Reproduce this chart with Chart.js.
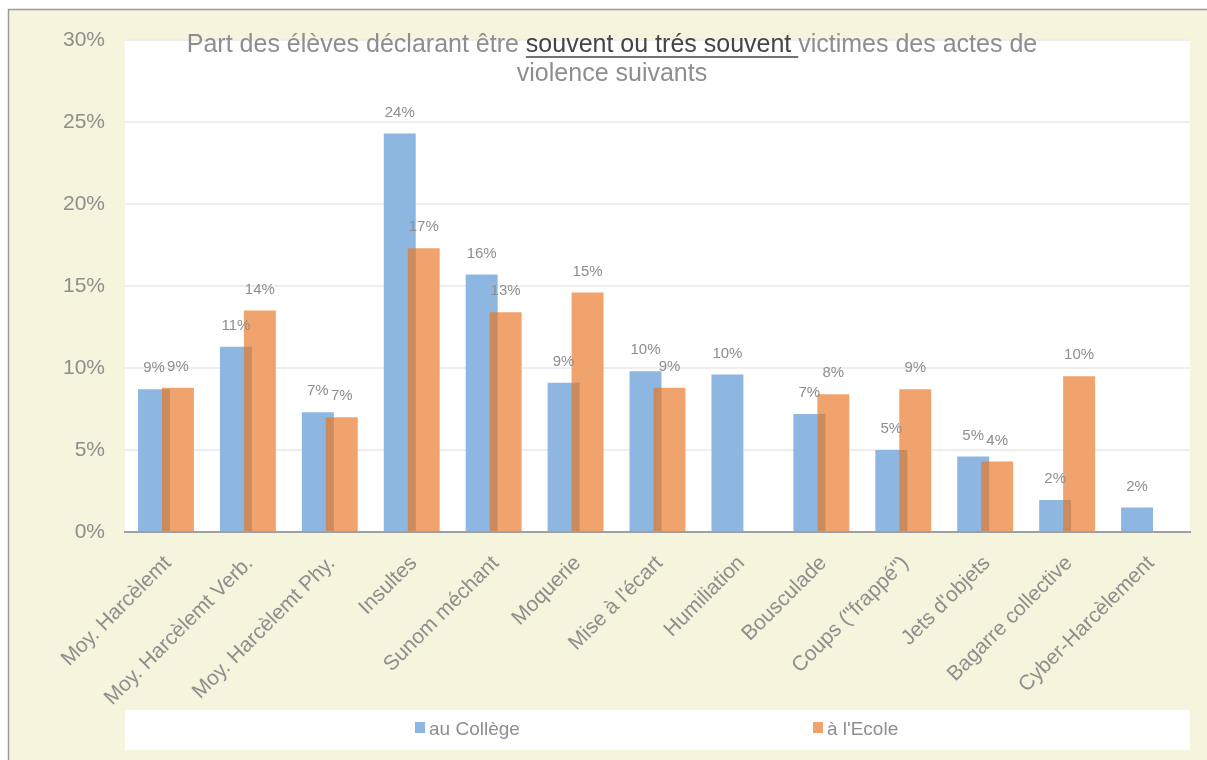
<!DOCTYPE html>
<html>
<head>
<meta charset="utf-8">
<script src="https://cdn.jsdelivr.net/npm/chart.js@4.4.1/dist/chart.umd.min.js"></script>
<style>
  html, body { margin: 0; padding: 0; background: #fff; }
</style>
</head>
<body>
<canvas id="violenceChart" width="1207" height="760"></canvas>
<script>
// Données
const categories = [
    'Moy. Harcèlemt', 'Moy. Harcèlemt Verb.', 'Moy. Harcèlemt Phy.', 'Insultes',
    'Sunom méchant', 'Moquerie', "Mise à l'écart", 'Humiliation', 'Bousculade',
    'Coups ("frappé")', "Jets d'objets", 'Bagarre collective', 'Cyber-Harcèlement'
];
const seriesLabels = ['au Collège', "à l'Ecole"];
const college = [8.7, 11.3, 7.3, 24.3, 15.7, 9.1, 9.8, 9.6, 7.2, 5.0, 4.6, 1.95, 1.5];
const ecole = [8.8, 13.5, 7.0, 17.3, 13.4, 14.6, 8.8, null, 8.4, 8.7, 4.3, 9.5, null];
const yTicks = [0, 5, 10, 15, 20, 25, 30];

const colors = {
    blue: '#8db7e1',
    orange: '#f0a36c',
    overlap: '#cc8b5c',
    text: '#8e8e8e',
    textDark: '#454545',
    cream: '#f5f4dc',
    grid: '#eeeeee',
    axis: '#a0a0a0'
};
const fontFamily = "'Liberation Sans', Arial, sans-serif";

// fond crème, zone de tracé blanche et cadre de légende
const fondPlugin = {
    id: 'fond',
    beforeDraw(chart) {
        const { ctx, chartArea: a, width, height } = chart;
        ctx.save();
        ctx.fillStyle = '#ffffff';
        ctx.fillRect(0, 0, width, height);
        ctx.fillStyle = colors.cream;
        ctx.fillRect(9, 10, width - 9, height - 10);
        ctx.strokeStyle = '#9a9a9a';
        ctx.lineWidth = 1.5;
        ctx.beginPath();
        ctx.moveTo(8.5, height);
        ctx.lineTo(8.5, 9.5);
        ctx.lineTo(width, 9.5);
        ctx.stroke();
        ctx.fillStyle = '#ffffff';
        ctx.fillRect(a.left, a.top, a.right - a.left, a.bottom - a.top);
        ctx.fillRect(a.left, 710, a.right - a.left, 40);
        ctx.restore();
    }
};

// recouvrement des barres + étiquettes de valeurs
const barresPlugin = {
    id: 'barres',
    afterDatasetsDraw(chart) {
        const { ctx } = chart;
        const m0 = chart.getDatasetMeta(0).data;
        const m1 = chart.getDatasetMeta(1).data;
        ctx.save();
        ctx.fillStyle = colors.overlap;
        categories.forEach((c, i) => {
            if (college[i] == null || ecole[i] == null) return;
            const b0 = m0[i], b1 = m1[i];
            const left = Math.max(b0.x - b0.width / 2, b1.x - b1.width / 2);
            const right = Math.min(b0.x + b0.width / 2, b1.x + b1.width / 2);
            const top = Math.max(b0.y, b1.y);
            if (right > left) ctx.fillRect(left, top, right - left, b0.base - top);
        });
        ctx.font = '15px ' + fontFamily;
        ctx.fillStyle = colors.text;
        ctx.textAlign = 'center';
        ctx.textBaseline = 'middle';
        [college, ecole].forEach((serie, d) => {
            const meta = chart.getDatasetMeta(d).data;
            serie.forEach((v, i) => {
                if (v == null) return;
                ctx.fillText(Math.round(v) + '%', meta[i].x, meta[i].y - 21);
            });
        });
        ctx.restore();
    }
};

// titre (avec partie soulignée) et légende
const titrePlugin = {
    id: 'titre',
    afterDraw(chart) {
        const { ctx } = chart;
        ctx.save();
        ctx.font = '25px ' + fontFamily;
        ctx.textBaseline = 'middle';
        ctx.textAlign = 'left';
        const p1 = 'Part des élèves déclarant être ';
        const p2 = 'souvent ou trés souvent ';
        const p3 = 'victimes des actes de';
        const w1 = ctx.measureText(p1).width;
        const w2 = ctx.measureText(p2).width;
        const w3 = ctx.measureText(p3).width;
        const cx = 612;
        let x = cx - (w1 + w2 + w3) / 2;
        const y1 = 45;
        ctx.fillStyle = colors.text;
        ctx.fillText(p1, x, y1);
        x += w1;
        ctx.fillStyle = colors.textDark;
        ctx.fillText(p2, x, y1);
        ctx.strokeStyle = colors.textDark;
        ctx.lineWidth = 1.5;
        ctx.beginPath();
        ctx.moveTo(x, y1 + 12);
        ctx.lineTo(x + w2, y1 + 12);
        ctx.stroke();
        x += w2;
        ctx.fillStyle = colors.text;
        ctx.fillText(p3, x, y1);
        ctx.textAlign = 'center';
        ctx.fillText('violence suivants', cx, 74);

        // légende
        const legendX = [415, 813];
        const legendColors = [colors.blue, colors.orange];
        ctx.font = '19px ' + fontFamily;
        ctx.textAlign = 'left';
        seriesLabels.forEach((lab, i) => {
            ctx.fillStyle = legendColors[i];
            ctx.fillRect(legendX[i], 722, 10, 11);
            ctx.fillStyle = colors.text;
            ctx.fillText(lab, legendX[i] + 14, 730);
        });
        ctx.restore();
    }
};

const ctx = document.getElementById('violenceChart').getContext('2d');
new Chart(ctx, {
    type: 'bar',
    data: {
        labels: categories,
        datasets: [
            {
                label: seriesLabels[0],
                data: college,
                backgroundColor: colors.blue,
                borderWidth: 0,
                categoryPercentage: 0.585,
                barPercentage: 1.333
            },
            {
                label: seriesLabels[1],
                data: ecole,
                backgroundColor: colors.orange,
                borderWidth: 0,
                categoryPercentage: 0.585,
                barPercentage: 1.333
            }
        ]
    },
    options: {
        responsive: false,
        animation: false,
        devicePixelRatio: 1,
        layout: { padding: { top: 40, right: 17, bottom: 0, left: 0 } },
        plugins: {
            legend: { display: false },
            title: { display: false },
            tooltip: { enabled: false }
        },
        scales: {
            x: {
                grid: { display: false, drawTicks: false },
                border: { display: true, color: colors.axis, width: 2 },
                ticks: {
                    color: colors.text,
                    font: { family: fontFamily, size: 21 },
                    minRotation: 45,
                    maxRotation: 45,
                    autoSkip: false,
                    padding: 19,
                    labelOffset: 2
                },
                afterFit(scale) { scale.height = 228; }
            },
            y: {
                min: 0,
                max: 30,
                afterBuildTicks(scale) { scale.ticks = yTicks.map(v => ({ value: v })); },
                grid: {
                    drawTicks: false,
                    lineWidth: 2,
                    color: c => (c.tick && c.tick.value === 0) ? 'rgba(0,0,0,0)' : colors.grid
                },
                border: { display: false },
                ticks: {
                    color: colors.text,
                    font: { family: fontFamily, size: 21 },
                    padding: 20,
                    callback: v => v + '%'
                },
                afterFit(scale) { scale.width = 125; }
            }
        }
    },
    plugins: [fondPlugin, barresPlugin, titrePlugin]
});
</script>
</body>
</html>
